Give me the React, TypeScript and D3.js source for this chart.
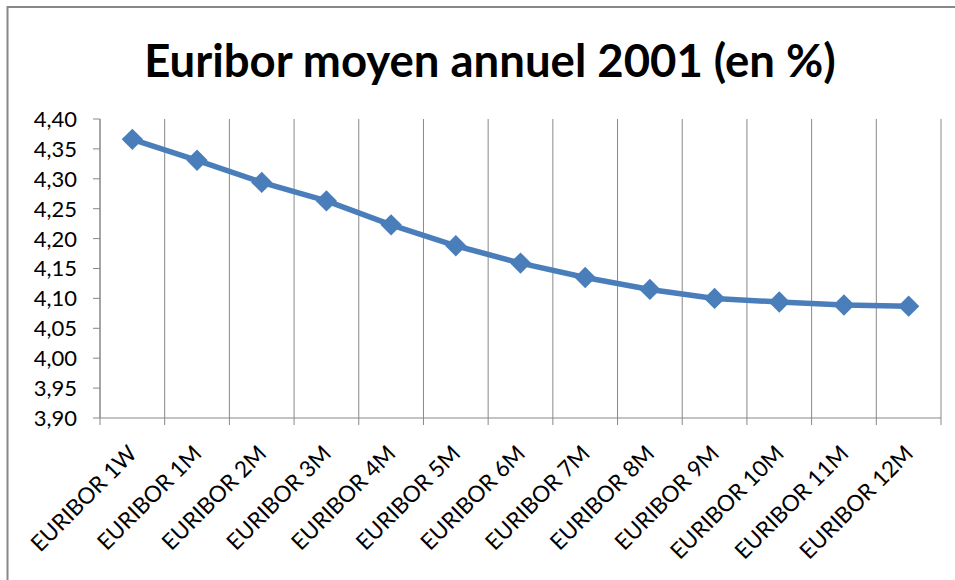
import React from "react";
import * as d3 from "d3";

const categories = [
  "EURIBOR 1W", "EURIBOR 1M", "EURIBOR 2M", "EURIBOR 3M", "EURIBOR 4M",
  "EURIBOR 5M", "EURIBOR 6M", "EURIBOR 7M", "EURIBOR 8M", "EURIBOR 9M",
  "EURIBOR 10M", "EURIBOR 11M", "EURIBOR 12M",
];
const values = [
  4.366, 4.331, 4.294, 4.263, 4.223, 4.188, 4.159, 4.135, 4.115, 4.100,
  4.094, 4.089, 4.087,
];
const yTicks = [3.9, 3.95, 4.0, 4.05, 4.1, 4.15, 4.2, 4.25, 4.3, 4.35, 4.4];
const title = "Euribor moyen annuel 2001 (en %)";

const width = 955;
const height = 580;
const margin = { top: 119, right: 14, bottom: 162, left: 100 };
const font = "Lato, 'Open Sans', sans-serif";

const App = () => {
  const innerW = width - margin.left - margin.right;
  const innerH = height - margin.top - margin.bottom;

  const x = d3.scaleBand().domain(categories).range([0, innerW]);
  const y = d3.scaleLinear().domain([3.9, 4.4]).range([innerH, 0]);
  const cx = (c: string) => (x(c) as number) + x.bandwidth() / 2;

  const line = d3
    .line<number>()
    .x((_, i) => cx(categories[i]))
    .y((d) => y(d));

  const diamond = d3.symbol().type(d3.symbolDiamond2).size(290)();
  const fmt = (v: number) => v.toFixed(2).replace(".", ",");
  const bounds = categories.map((c) => x(c) as number).concat(innerW);

  return (
    <svg
      width={width}
      height={height}
      style={{ position: "absolute", left: 0, top: 0, background: "#fff" }}
    >
      {/* chart area border (cropped) */}
      <line x1={7.5} x2={width} y1={7} y2={7} stroke="#888" strokeWidth={2} />
      <line x1={7.5} x2={7.5} y1={6} y2={height} stroke="#888" strokeWidth={2} />

      <text
        x={490}
        y={77}
        textAnchor="middle"
        fontFamily={font}
        fontWeight="bold"
        fontSize={45.5}
        fill="#000"
      >
        {title}
      </text>

      <g transform={`translate(${margin.left},${margin.top})`}>
        {/* vertical gridlines at category boundaries */}
        {bounds.map((b, i) => (
          <line key={i} x1={b} x2={b} y1={0} y2={innerH + 7} stroke="#888" strokeWidth={1} />
        ))}
        {/* y axis */}
        <line x1={0} x2={0} y1={0} y2={innerH} stroke="#888" />
        {yTicks.map((t) => (
          <g key={t} transform={`translate(0,${y(t)})`}>
            <line x1={-7} x2={0} stroke="#888" />
            <text
              x={-23}
              dy="0.36em"
              textAnchor="end"
              fontFamily={font}
              fontSize={22}
              fill="#000"
            >
              {fmt(t)}
            </text>
          </g>
        ))}
        {/* x axis */}
        <line x1={0} x2={innerW} y1={innerH} y2={innerH} stroke="#888" />
        {categories.map((c) => (
          <text
            key={c}
            transform={`translate(${cx(c) + 6},${innerH + 37}) rotate(-45)`}
            textAnchor="end"
            fontFamily={font}
            fontSize={22.5}
            fill="#000"
          >
            {c}
          </text>
        ))}

        <path d={line(values) || ""} fill="none" stroke="#4a7ebb" strokeWidth={5.5} />
        {values.map((v, i) => (
          <path
            key={i}
            d={diamond || ""}
            transform={`translate(${cx(categories[i])},${y(v)})`}
            fill="#4a7ebb"
          />
        ))}
      </g>
    </svg>
  );
};

export default App;
